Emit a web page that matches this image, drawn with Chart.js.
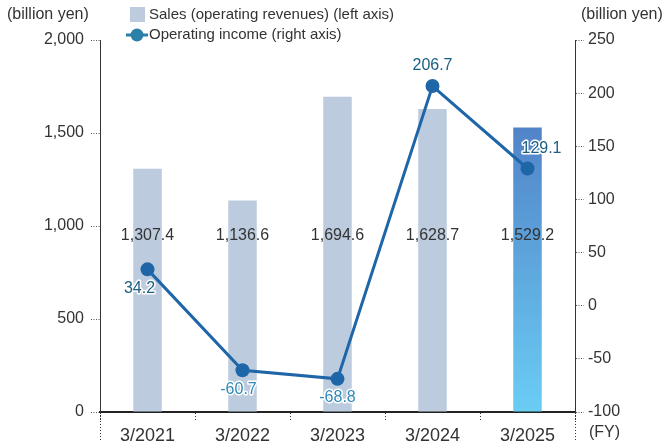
<!DOCTYPE html>
<html>
<head>
  <title>Sales and Operating Income</title>
  <script src="https://cdn.jsdelivr.net/npm/chart.js"></script>
  <style>
    body { margin: 0; background: #fff; }
    #wrap { width: 663px; height: 446px; }
  </style>
</head>
<body>
<div id="wrap"><canvas id="mainChart" width="663" height="446"></canvas></div>

<script>
const years = ['3/2021', '3/2022', '3/2023', '3/2024', '3/2025'];
const sales = [1307.4, 1136.6, 1694.6, 1628.7, 1529.2];
const operatingIncome = [34.2, -60.7, -68.8, 206.7, 129.1];
const salesTicks = [0, 500, 1000, 1500, 2000];
const incomeTicks = [-100, -50, 0, 50, 100, 150, 200, 250];

const FONT = '"Liberation Sans", Arial, sans-serif';
const TEXT = '#333';
const BAR = '#bccbdd';
const LINE = '#1f66a8';

// label tweaks for the line values
const incomeLabelPos = ['below', 'below', 'below', 'above', 'above'];
const incomeLabelDx = [-8, -4, 0, 0, 14];

function fmt(v) {
  return v.toLocaleString('en-US', { minimumFractionDigits: 1, maximumFractionDigits: 1 });
}

function barColor(ctx) {
  const chart = ctx.chart;
  const area = chart.chartArea;
  if (!area) return BAR;
  if (ctx.dataIndex !== sales.length - 1) return BAR;
  const g = chart.ctx.createLinearGradient(0, chart.scales.y.getPixelForValue(sales[ctx.dataIndex]), 0, area.bottom);
  g.addColorStop(0, '#5283c8');
  g.addColorStop(1, '#6acdf4');
  return g;
}

function outlined(c, text, x, y, color) {
  c.lineWidth = 3;
  c.strokeStyle = '#fff';
  c.lineJoin = 'round';
  c.strokeText(text, x, y);
  c.fillStyle = color;
  c.fillText(text, x, y);
}

const extras = {
  id: 'extras',
  afterDatasetsDraw(chart) {
    const c = chart.ctx;
    c.save();
    c.textAlign = 'center';
    c.textBaseline = 'middle';
    c.font = '16px ' + FONT;

    // sales values, all on one row
    const barMeta = chart.getDatasetMeta(0);
    const rowY = chart.scales.y.getPixelForValue(950);
    barMeta.data.forEach((bar, i) => {
      c.fillStyle = TEXT;
      c.fillText(fmt(sales[i]), bar.x, rowY);
    });

    // operating income values
    const lineMeta = chart.getDatasetMeta(1);
    lineMeta.data.forEach((pt, i) => {
      const up = incomeLabelPos[i] === 'above';
      const y = up ? pt.y - 20 : pt.y + 19;
      const color = operatingIncome[i] < 0 ? '#2f8ab8' : '#1a5e80';
      outlined(c, fmt(operatingIncome[i]), pt.x + incomeLabelDx[i], y, color);
    });
    c.restore();
  },
  afterDraw(chart) {
    const c = chart.ctx;
    const area = chart.chartArea;
    c.save();

    // edge lines run down past the axis
    c.strokeStyle = '#333';
    c.lineWidth = 1;
    c.setLineDash([1, 2]);
    [area.left, area.right].forEach(x => {
      c.beginPath();
      c.moveTo(Math.round(x) + 0.5, area.bottom);
      c.lineTo(Math.round(x) + 0.5, 440);
      c.stroke();
    });
    c.setLineDash([]);

    c.font = '16px ' + FONT;
    c.fillStyle = TEXT;
    c.textBaseline = 'middle';
    c.textAlign = 'left';
    c.fillText('(billion yen)', 7, 15);
    c.fillText('(billion yen)', 581, 15);
    c.font = '16px ' + FONT;
    c.fillText('(FY)', 589, 433);

    // legend
    c.font = '15px ' + FONT;
    c.fillStyle = BAR;
    c.fillRect(130, 7, 15, 15);
    c.fillStyle = TEXT;
    c.fillText('Sales (operating revenues) (left axis)', 149, 15);

    c.strokeStyle = '#2a80a8';
    c.lineWidth = 3;
    c.beginPath();
    c.moveTo(126, 35);
    c.lineTo(148, 35);
    c.stroke();
    c.fillStyle = '#2a80a8';
    c.beginPath();
    c.arc(137, 35, 6.5, 0, Math.PI * 2);
    c.fill();
    c.fillStyle = TEXT;
    c.fillText('Operating income (right axis)', 149, 35);
    c.restore();
  }
};

const ctx = document.getElementById('mainChart').getContext('2d');

new Chart(ctx, {
  data: {
    labels: years,
    datasets: [{
      type: 'bar',
      label: 'Sales (operating revenues) (left axis)',
      data: sales,
      yAxisID: 'y',
      backgroundColor: barColor,
      barPercentage: 0.3,
      categoryPercentage: 1,
      order: 2
    }, {
      type: 'line',
      label: 'Operating income (right axis)',
      data: operatingIncome,
      yAxisID: 'y1',
      borderColor: LINE,
      backgroundColor: LINE,
      borderWidth: 3,
      pointRadius: 7,
      pointHoverRadius: 7,
      pointBackgroundColor: LINE,
      pointBorderWidth: 0,
      tension: 0,
      order: 1
    }]
  },
  options: {
    responsive: false,
    animation: false,
    layout: { padding: { top: 40, left: 0, right: 0, bottom: 0 } },
    plugins: {
      legend: { display: false },
      tooltip: { enabled: false }
    },
    scales: {
      x: {
        afterFit(scale) { scale.height = 34; },
        border: { display: true, color: '#222', width: 2 },
        grid: {
          offset: true,
          drawOnChartArea: false,
          drawTicks: true,
          tickLength: 8,
          tickColor: '#333',
          tickBorderDash: [1, 2],
          tickWidth: 1
        },
        ticks: {
          color: TEXT,
          font: { family: FONT, size: 18 },
          padding: 5
        }
      },
      y: {
        position: 'left',
        min: 0,
        max: 2000,
        afterFit(scale) { scale.width = 100; },
        afterBuildTicks(scale) { scale.ticks = salesTicks.map(v => ({ value: v })); },
        border: { display: true, color: '#333', width: 1, dash: [1, 2] },
        grid: {
          drawOnChartArea: false,
          tickLength: 9,
          tickColor: '#555',
          tickBorderDash: [1, 1.5],
          tickWidth: 1
        },
        ticks: {
          color: TEXT,
          font: { family: FONT, size: 16 },
          padding: 7,
          callback: v => v.toLocaleString('en-US')
        }
      },
      y1: {
        position: 'right',
        min: -100,
        max: 250,
        afterFit(scale) { scale.width = 88; },
        afterBuildTicks(scale) { scale.ticks = incomeTicks.map(v => ({ value: v })); },
        border: { display: true, color: '#333', width: 1, dash: [1, 2] },
        grid: {
          drawOnChartArea: false,
          tickLength: 9,
          tickColor: '#555',
          tickBorderDash: [1, 1.5],
          tickWidth: 1
        },
        ticks: {
          color: TEXT,
          font: { family: FONT, size: 16 },
          padding: 4,
          callback: v => String(v)
        }
      }
    }
  },
  plugins: [extras]
});
</script>
</body>
</html>
